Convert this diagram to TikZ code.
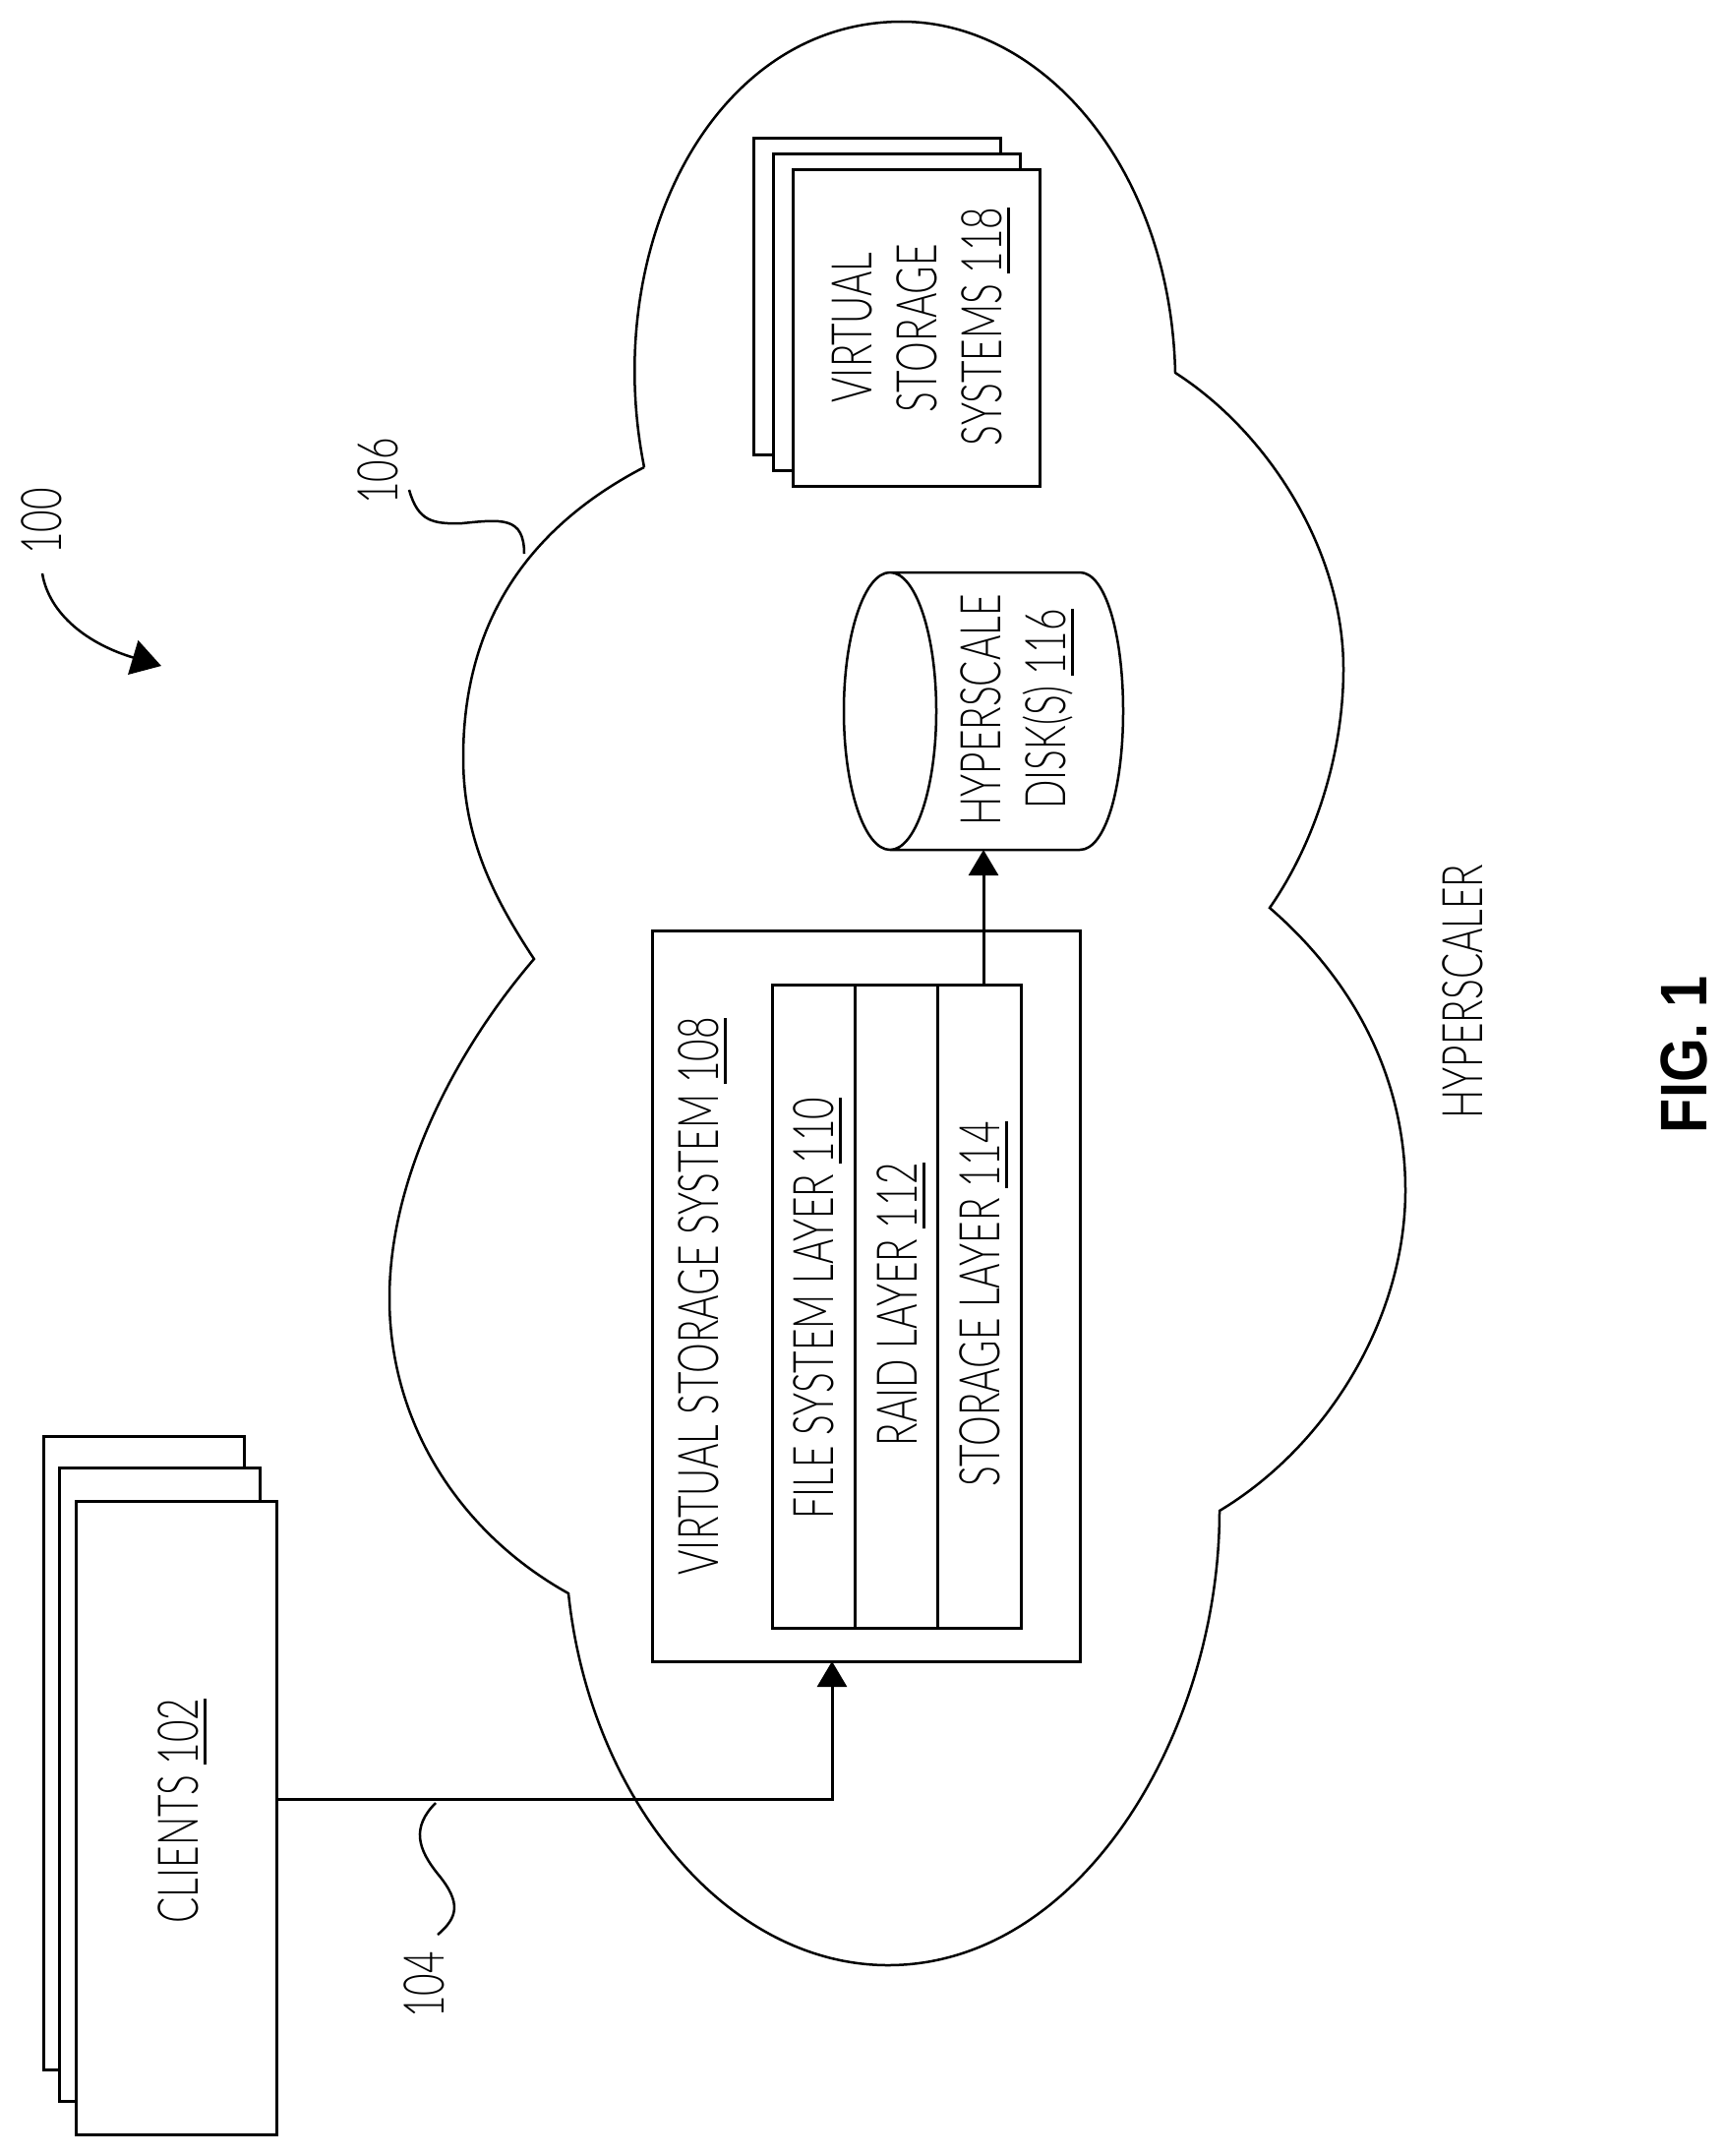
\documentclass[tikz,border=0pt]{standalone}
\usepackage{fontspec}
\setmainfont[FakeStretch=0.68,UprightFont={* Light}]{Lato}
\newfontfamily\figfont[FakeStretch=0.86]{Liberation Sans}
\usetikzlibrary{arrows.meta}
\newcommand{\refnum}[1]{\setbox0\hbox{#1}\rlap{\rule[-9pt]{\wd0}{3pt}}\box0}
\begin{document}
\begin{tikzpicture}[x=1pt,y=-1pt]
    \tikzstyle{page}=[draw=black, line width=3pt, fill=white, rectangle, minimum width=204pt, minimum height=644pt, inner sep=0pt, outer sep=0pt]
    \tikzstyle{vpage}=[page, minimum width=251pt, minimum height=322pt]
    \tikzstyle{layer}=[draw=black, line width=3pt, rectangle, minimum height=654pt, inner sep=0pt, outer sep=0pt]
    \tikzstyle{txt}=[rotate=90, anchor=base, inner sep=0pt, font=\fontsize{57}{62}\selectfont]
    \tikzstyle{wire}=[draw=black, line width=3pt]
    \tikzstyle{lead}=[draw=black, line width=2.5pt]
    \tikzstyle{tip}=[-{Triangle[width=30pt,length=26pt]}]
    \useasboundingbox (0,0) rectangle (1755,2192);

    % cloud
    \draw[draw=black, line width=2.5pt] (655,475) .. controls (610,250) and (725,22) .. (917,22)
                                        .. controls (1060,22) and (1190,170) .. (1195,379)
                                        .. controls (1290,440) and (1366,560) .. (1366,680)
                                        .. controls (1366,770) and (1335,860) .. (1291,923)
                                        .. controls (1380,1000) and (1429,1100) .. (1429,1210)
                                        .. controls (1429,1340) and (1350,1470) .. (1240,1536)
                                        .. controls (1240,1760) and (1100,1998) .. (903,1998)
                                        .. controls (740,1998) and (600,1830) .. (578,1620)
                                        .. controls (470,1560) and (396,1450) .. (396,1320)
                                        .. controls (396,1190) and (470,1060) .. (543,975)
                                        .. controls (500,910) and (471,850) .. (471,770)
                                        .. controls (471,640) and (530,540) .. (655,475);

    % clients
    \node[page] (clientsback) at (146,1782) {};
    \node[page] (clientsmid)  at (162,1814) {};
    \node[page] (clients)     at (179,1848) {};
    \node[txt]  (clientstext) at (201,1841) {CLIENTS \refnum{102}};

    % virtual storage system
    \node[draw=black, line width=3pt, rectangle, minimum width=435pt, minimum height=743pt, outer sep=0pt] (vss) at (880.5,1317.5) {};
    \node[txt] (vsstext) at (730,1318) {VIRTUAL STORAGE SYSTEM \refnum{108}};
    \node[layer, minimum width=84pt] (filesys) at (827,1328)   {};
    \node[layer, minimum width=84pt] (raid)    at (911,1328)   {};
    \node[layer, minimum width=85pt] (storage) at (995.5,1328) {};
    \node[txt] (filesystext) at (847,1330)  {FILE SYSTEM LAYER \refnum{110}};
    \node[txt] (raidtext)    at (932,1326)  {RAID LAYER \refnum{112}};
    \node[txt] (storagetext) at (1016,1326) {STORAGE LAYER \refnum{114}};

    % disk
    \node[rectangle, minimum width=284pt, minimum height=282pt, inner sep=0pt, outer sep=0pt] (disk) at (1000,723) {};
    \draw[draw=black, line width=2.5pt] (905,582) .. controls (879,582) and (858,645) .. (858,723)
                                        .. controls (858,801) and (879,864) .. (905,864)
                                        .. controls (931,864) and (952,801) .. (952,723)
                                        .. controls (952,645) and (931,582) .. (905,582)
                                        -- (1098,582) .. controls (1124,582) and (1142,645) .. (1142,723)
                                        .. controls (1142,801) and (1124,864) .. (1098,864) -- (905,864);
    \node[txt] (hypertext) at (1017,722) {HYPERSCALE};
    \node[txt] (disktext)  at (1083,721) {DISK(S) \refnum{116}};

    % other systems
    \node[vpage] (vsysback)  at (891.5,301.5) {};
    \node[vpage] (vsysmid)   at (911.5,317) {};
    \node[vpage] (vsysfront) at (931.5,333.5) {};
    \node[txt] (vsysone)   at (886,333)  {VIRTUAL};
    \node[txt] (vsystwo)   at (952,334)  {STORAGE};
    \node[txt] (vsysthree) at (1018,332) {SYSTEMS \refnum{118}};

    % connectors
    \coordinate (turn) at (846,1829);
    \draw[wire,tip] (clients.east |- turn) -- (turn) -- (turn |- vss.south);
    \draw[wire,tip] (disk.south |- storage.north) -- (disk.south);

    % reference labels
    \node[txt] (hyperscaler) at (1507,1008) {HYPERSCALER};
    \node[txt] (ref100) at (62,530)   {100};
    \node[txt] (ref106) at (404,479)  {106};
    \node[txt] (ref104) at (451,2018) {104};
    \node[rotate=90, anchor=base, inner sep=0pt] (fig) at (1735,1072) {\figfont\bfseries\fontsize{67}{70}\selectfont FIG. 1};

    \coordinate (start100) at (43,583);
    \coordinate (end100)   at (164,677);
    \coordinate (start106) at (416,498);
    \coordinate (end106)   at (533,563);
    \coordinate (start104) at (445,1967);
    \coordinate (end104)   at (443,1833);
    \draw[lead,-{Triangle[width=36pt,length=30pt]}] (start100) .. controls (50,625) and (90,655) .. (end100);
    \draw[lead] (start106) .. controls (425,530) and (440,533) .. (470,532) .. controls (510,528) and (533,525) .. (end106);
    \draw[lead] (start104) .. controls (465,1950) and (470,1935) .. (445,1905) .. controls (425,1880) and (418,1858) .. (end104);
\end{tikzpicture}
\end{document}
